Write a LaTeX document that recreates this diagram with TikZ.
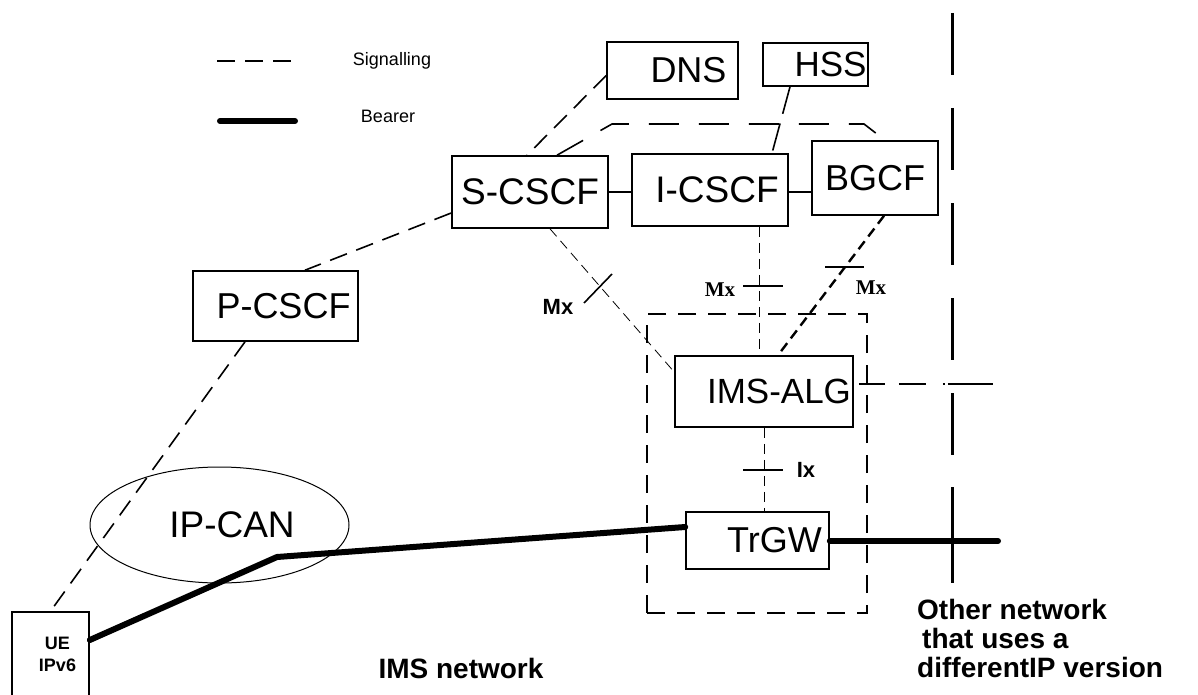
\documentclass[tikz,border=0pt]{standalone}
\usepackage{fontspec}
\setmainfont{Liberation Sans}
\newfontfamily\serifface{Liberation Serif}
\usetikzlibrary{shapes.geometric}

\begin{document}
\begin{tikzpicture}[
    x=1pt, y=-1pt,
    box/.style={draw, rectangle, line width=1.6pt, inner sep=1pt, font=\fontsize{36}{40}\selectfont},
    signal/.style={line width=1.6pt, dash pattern=on 18pt off 10pt},
    longsignal/.style={line width=1.6pt, dash pattern=on 30pt off 20pt},
    hsssignal/.style={line width=1.6pt, dash pattern=on 28pt off 10pt},
    thinsignal/.style={line width=0.8pt, dash pattern=on 10pt off 6pt},
    boldsignal/.style={line width=2.4pt, dash pattern=on 10pt off 6pt},
    bearer/.style={line width=6pt, line cap=round},
    tick/.style={line width=1.6pt},
    ifname/.style={font=\fontsize{22}{24}\selectfont\bfseries},
    ifserif/.style={font=\fontsize{21}{24}\selectfont\serifface\bfseries},
    legend/.style={font=\fontsize{18}{20}\selectfont},
    netname/.style={font=\fontsize{28}{29}\selectfont\bfseries, align=left, inner sep=0pt}
]
    \clip (0,0) rectangle (1198,695);

    % legend
    \coordinate (siga) at (217,61);
    \coordinate (sigb) at (291,61);
    \coordinate (bera) at (220,121);
    \coordinate (berb) at (295,121);
    \draw [signal] (siga) -- (sigb);
    \draw [bearer] (bera) -- (berb);
    \node (siglbl) [legend] at (392,61) {Signalling};
    \node (berlbl) [legend] at (388,116) {Bearer};

    % network elements
    \node (dns) [box, minimum width=131, minimum height=57] at (672.5,70.5) {\hspace*{32pt}DNS};
    \node (hss) [box, minimum width=105, minimum height=43, font=\fontsize{35}{40}\selectfont] at (815.5,64.5) {\hspace*{30pt}HSS};
    \node (scscf) [box, minimum width=156, minimum height=72, font=\fontsize{37}{40}\selectfont] at (530,192) {S-CSCF};
    \node (icscf) [box, minimum width=156, minimum height=72, font=\fontsize{37}{40}\selectfont] at (710,190) {\hspace*{14pt}I-CSCF};
    \node (bgcf) [box, minimum width=126, minimum height=74] at (875,178) {BGCF};
    \node (pcscf) [box, minimum width=165, minimum height=70] at (275.5,306) {\hspace*{16pt}P-CSCF};
    \node (imsalg) [box, minimum width=178, minimum height=71, font=\fontsize{35}{40}\selectfont] at (764,391.5) {\hspace*{30pt}IMS-ALG};
    \node (trgw) [box, minimum width=143, minimum height=57] at (757.5,540.5) {\hspace*{34pt}TrGW};
    \node (ue) [box, minimum width=77, minimum height=84, align=center, font=\fontsize{18}{22}\selectfont\bfseries] at (50.5,654) {\hspace*{14pt}UE\\\hspace*{14pt}IPv6};
    \node (ipcan) [draw, ellipse, line width=1pt, minimum width=259, minimum height=116, font=\fontsize{37}{40}\selectfont] at (219.5,525) {\hspace*{25pt}IP-CAN};
    \node (grp) [draw, rectangle, line width=1.8pt, dash pattern=on 18pt off 12pt, minimum width=220, minimum height=299] at (757,463.5) {};

    % signalling
    \coordinate (topl) at (612,124);
    \coordinate (topr) at (864,124);
    \draw [signal] ([yshift=-5]dns.west) -- ([xshift=-3]scscf.north);
    \draw [longsignal] ([xshift=27]scscf.north) -- (topl) -- (topr) -- ([xshift=10]bgcf.north);
    \draw [hsssignal] ([xshift=-25.5]hss.south) -- ([xshift=62]icscf.north);
    \draw [tick] (scscf.east) -- (scscf.east -| icscf.west);
    \draw [tick] ([yshift=-2]icscf.east) -- ([yshift=-2]icscf.east -| bgcf.west);
    \draw [signal] ([yshift=-21]scscf.west) -- ([xshift=29.5]pcscf.north);
    \draw [signal] ([xshift=-30.5]pcscf.south) -- (ue.north);
    \draw [thinsignal] ([xshift=20]scscf.south) -- ([yshift=19.5]imsalg.west);
    \draw [thinsignal] ([xshift=49]icscf.south) -- ([xshift=49]icscf.south |- imsalg.north);
    \draw [boldsignal] ([xshift=9]bgcf.south) -- ([xshift=14]imsalg.north);
    \draw [thinsignal] (imsalg.south) -- (imsalg.south |- trgw.north);

    % reference points
    \draw [tick] (584,303) -- (612,274);
    \node (mxs) [ifname] at (558,307) {Mx};
    \draw [tick] (743,286) -- (783,286);
    \node (mxi) [ifserif] at (720,290) {Mx};
    \draw [tick] (825,267) -- (864,267);
    \node (mxb) [ifserif] at (871,288) {Mx};
    \draw [tick] (743,470) -- (783,470);
    \node (ix) [ifname] at (806,470) {Ix};

    % towards the other network
    \coordinate (algend) at (993,384);
    \draw [line width=1.6pt, dash pattern=on 26pt off 14pt on 27pt off 17pt on 2pt off 3pt on 48pt off 10pt]
        ([xshift=5,yshift=7.5]imsalg.east) -- (algend);

    % bearer
    \coordinate (bend) at (277,557);
    \coordinate (farend) at (998,541);
    \draw [bearer] ([yshift=14]ue.east) -- (bend) -- ([yshift=13.5]trgw.west);
    \draw [bearer] ([yshift=-0.5]trgw.east) -- (farend);

    % network border
    \coordinate (bordtop) at (952,13);
    \coordinate (bordmid) at (952,455);
    \coordinate (bordlow) at (952,487);
    \coordinate (bordend) at (952,583);
    \draw [line width=3pt, dash pattern=on 62pt off 33pt] (bordtop) -- (bordmid);
    \draw [line width=3pt] (bordlow) -- (bordend);

    \node (imsnet) [netname] at (461,668) {IMS network};
    \node (othernet) [netname, anchor=west] at (917,638) {Other network\\\hspace*{5pt}that uses a\\differentIP version};
\end{tikzpicture}
\end{document}
